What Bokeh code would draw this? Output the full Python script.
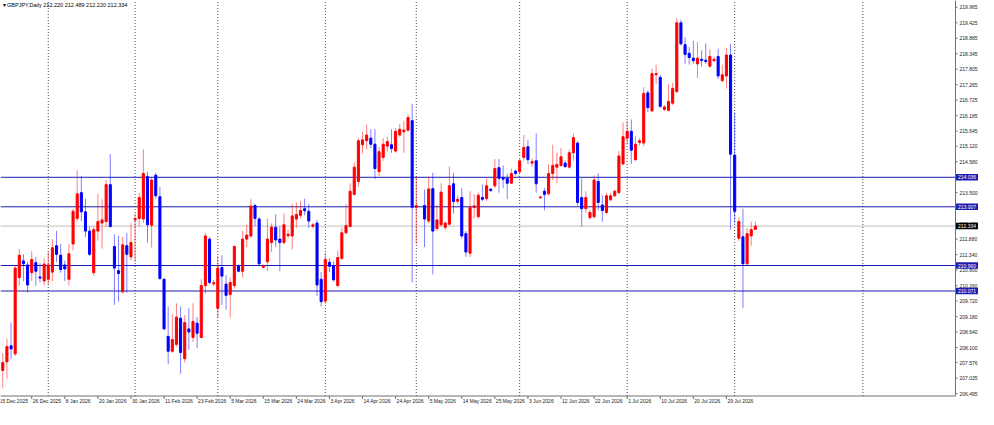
import numpy as np
from bokeh.plotting import figure
from bokeh.models import Range1d, ColumnDataSource
from bokeh.core.properties import value
from bokeh.embed import file_html
from bokeh.resources import INLINE

# ---------------- data ----------------
symbol = "GBPJPY,Daily"
bar_index = list(range(0, 101)) + list(range(102, 183))

opens = [
    207.30, 207.60, 208.16, 207.88, 210.54, 211.12, 210.98, 210.71, 211.06, 210.56,
    210.42, 210.48, 210.73, 211.65, 211.32, 210.98, 210.48, 211.71, 212.60, 213.50,
    212.83, 212.16, 210.71, 212.16, 212.44, 212.49, 213.78, 211.62, 210.78, 210.04,
    211.65, 211.26, 212.55, 212.60, 212.58, 214.06, 212.36, 214.11, 213.36, 210.48,
    208.49, 207.97, 208.21, 209.12, 207.71, 208.75, 208.45, 208.95, 208.45, 210.26,
    211.88, 210.32, 209.47, 210.89, 210.31, 209.95, 210.26, 210.93, 210.76, 211.88,
    211.99, 213.05, 212.58, 210.90, 211.09, 211.76, 212.29, 211.88, 211.76, 212.00,
    211.99, 212.58, 212.71, 212.94, 212.85, 212.33, 212.44, 210.48, 209.72, 211.07,
    210.95, 210.26, 211.21, 212.10, 212.32, 213.44, 213.89, 215.17, 215.31, 215.40,
    215.19, 214.23, 214.73, 215.12, 215.17, 214.95, 215.51, 215.62, 215.68, 216.01,
    212.99,
    213.05, 212.51, 213.64, 212.25, 212.38, 212.29, 212.40, 213.81, 213.20, 213.33,
    212.07, 211.39, 212.98, 212.66, 213.33, 213.29, 213.62, 213.74, 214.37, 214.03,
    214.00, 213.83, 214.25, 214.23, 214.73, 215.10, 214.53, 214.61, 213.32, 213.55,
    213.46, 214.17, 214.39, 214.45, 214.53, 214.39, 214.89, 215.23, 213.33, 212.94,
    212.63, 212.66, 213.89, 213.07, 212.81, 213.25, 213.39, 213.50, 214.50, 215.40,
    215.64, 214.65, 215.25, 215.23, 216.98, 216.35, 217.61, 217.52, 216.40, 216.37,
    216.62, 217.02, 219.42, 218.66, 218.36, 218.19, 217.99, 218.15, 218.12, 217.91,
    218.10, 218.25, 217.41, 217.57, 218.30, 214.81, 211.91, 211.96, 211.02, 211.99,
    212.220,
]
highs = [
    207.91, 208.41, 208.97, 210.98, 211.54, 211.35, 211.09, 211.46, 211.26, 211.04,
    211.21, 211.43, 211.88, 212.16, 211.71, 211.13, 211.71, 212.94, 214.28, 214.08,
    213.29, 212.32, 212.32, 213.46, 213.27, 213.94, 214.84, 212.05, 211.99, 211.96,
    212.10, 212.43, 212.77, 213.50, 215.01, 214.23, 214.06, 214.20, 213.70, 210.52,
    209.53, 209.26, 209.64, 209.53, 209.23, 209.47, 209.64, 209.16, 210.48, 212.10,
    211.95, 210.45, 211.29, 211.32, 210.62, 210.54, 211.67, 211.00, 212.16, 212.38,
    213.27, 213.11, 212.65, 211.00, 212.60, 212.43, 212.74, 212.32, 212.77, 212.20,
    213.11, 213.16, 213.22, 213.29, 213.11, 212.45, 212.55, 210.73, 211.40, 211.21,
    211.10, 211.49, 212.27, 213.11, 213.83, 214.56, 215.40, 215.62, 215.87, 215.71,
    215.71, 215.08, 215.40, 215.45, 215.71, 215.75, 215.90, 216.01, 216.23, 216.60,
    214.06,
    213.61, 214.06, 214.19, 213.07, 213.83, 212.50, 214.41, 214.19, 213.40, 213.66,
    212.16, 213.55, 213.44, 213.50, 213.78, 214.00, 213.65, 214.67, 214.67, 214.45,
    214.17, 214.34, 214.30, 214.67, 215.51, 215.34, 214.70, 215.57, 213.40, 213.66,
    214.50, 215.17, 214.89, 215.06, 214.62, 215.00, 215.57, 215.30, 214.00, 213.55,
    212.90, 214.11, 214.17, 213.41, 213.50, 213.50, 213.60, 214.95, 215.95, 216.01,
    216.05, 215.47, 215.40, 217.18, 217.07, 217.82, 217.96, 217.60, 216.55, 217.29,
    217.32, 219.59, 219.53, 218.92, 218.58, 218.80, 218.75, 218.46, 218.70, 218.50,
    218.25, 218.52, 217.96, 218.55, 218.69, 216.29, 212.63, 212.94, 212.27, 212.49,
    212.489,
]
lows = [
    206.68, 207.02, 207.69, 207.80, 210.26, 210.42, 210.01, 210.42, 210.26, 210.37,
    210.26, 210.31, 210.42, 211.09, 210.71, 210.42, 210.26, 211.49, 212.49, 212.51,
    211.96, 211.29, 210.59, 211.82, 211.55, 212.32, 212.27, 209.59, 209.70, 209.99,
    210.01, 211.15, 211.09, 212.32, 212.44, 211.76, 211.58, 213.30, 210.45, 208.72,
    207.52, 207.91, 208.13, 207.19, 207.58, 208.02, 208.30, 208.08, 208.41, 209.98,
    210.30, 210.25, 209.14, 209.59, 209.42, 209.14, 210.15, 210.72, 210.54, 211.60,
    211.93, 212.32, 210.98, 210.85, 210.76, 211.43, 211.60, 210.76, 211.70, 211.90,
    211.52, 212.27, 212.60, 212.71, 212.27, 212.25, 209.90, 209.53, 209.64, 210.73,
    210.40, 210.20, 211.15, 212.05, 212.28, 213.40, 213.70, 214.86, 215.01, 215.06,
    213.97, 214.08, 214.61, 214.93, 214.89, 214.89, 215.45, 214.89, 215.62, 210.37,
    211.71,
    211.60, 212.44, 210.65, 212.16, 212.32, 212.20, 212.36, 212.77, 213.10, 211.90,
    211.26, 211.26, 212.60, 212.60, 213.20, 213.20, 213.54, 213.66, 213.50, 213.66,
    213.27, 213.80, 214.10, 214.17, 214.61, 214.50, 214.40, 213.50, 213.28, 212.88,
    213.39, 213.94, 213.83, 214.40, 214.35, 214.34, 214.61, 213.05, 212.32, 212.80,
    212.55, 212.60, 212.88, 212.49, 212.75, 213.20, 213.35, 213.45, 214.45, 215.17,
    214.50, 214.60, 215.15, 215.12, 216.31, 216.30, 217.29, 216.45, 216.35, 216.33,
    216.55, 216.98, 218.63, 217.99, 217.97, 217.99, 217.50, 217.90, 217.99, 217.85,
    218.05, 217.46, 217.35, 217.13, 212.21, 212.44, 211.82, 209.47, 210.98, 211.65,
    212.220,
]
closes = [
    207.58, 208.13, 208.05, 210.87, 211.32, 211.02, 210.28, 211.17, 210.76, 210.52,
    211.01, 210.98, 211.58, 211.35, 210.82, 210.84, 211.37, 212.85, 213.46, 212.83,
    212.16, 211.35, 212.21, 212.49, 212.55, 213.78, 212.32, 210.87, 210.68, 211.68,
    211.35, 211.76, 212.60, 213.33, 214.17, 212.38, 213.94, 213.39, 210.51, 208.75,
    207.97, 208.38, 209.16, 207.93, 208.97, 208.64, 209.01, 208.60, 210.26, 211.99,
    210.37, 210.36, 210.87, 210.59, 209.92, 210.37, 211.62, 210.76, 211.88, 212.02,
    213.03, 212.60, 211.02, 210.95, 211.88, 212.30, 211.85, 211.76, 212.38, 212.05,
    212.69, 212.74, 212.88, 212.87, 212.51, 212.38, 210.28, 209.70, 211.17, 210.93,
    210.46, 211.24, 212.10, 212.35, 213.55, 214.39, 215.31, 215.34, 215.51, 215.19,
    214.34, 214.93, 215.19, 215.28, 215.04, 215.64, 215.71, 215.68, 216.12, 212.99,
    213.05,
    212.58, 213.63, 212.16, 212.55, 213.52, 212.44, 213.74, 213.19, 213.27, 211.99,
    211.43, 212.99, 213.04, 213.41, 213.27, 213.74, 213.57, 214.34, 214.00, 213.97,
    213.83, 214.17, 214.17, 214.61, 215.08, 214.65, 214.58, 213.81, 213.35, 213.44,
    214.17, 214.45, 214.48, 214.75, 214.41, 214.89, 215.42, 213.16, 212.94, 213.33,
    212.81, 213.94, 213.16, 212.88, 213.39, 213.39, 213.55, 214.78, 215.45, 215.64,
    214.98, 215.19, 215.31, 216.96, 216.46, 217.65, 217.65, 216.51, 216.49, 216.68,
    217.13, 219.42, 218.69, 218.32, 218.21, 218.10, 218.19, 218.11, 218.07, 218.25,
    218.15, 217.57, 217.61, 218.30, 214.84, 212.85, 212.49, 211.02, 212.07, 212.21,
    212.334,
]

# right price scale
price_ticks = [219.965, 219.425, 218.885, 218.345, 217.805, 217.265, 216.725, 216.185,
               215.645, 215.120, 214.580, 214.040, 213.500, 212.960, 212.420, 211.880,
               211.340, 210.800, 210.260, 209.720, 209.180, 208.640, 208.100, 207.576,
               207.035, 206.495]
# horizontal levels and bid line
level_values = [214.036, 213.007, 210.960, 210.071]
bid_value = 212.334

# time scale
date_pos = [-1, 7, 15, 23, 31, 39, 47, 55, 63, 71, 79, 87, 95, 103, 111, 119, 127,
            135, 143, 151, 159, 167, 175]
date_labels = ["15 Dec 2025", "26 Dec 2025", "8 Jan 2026", "20 Jan 2026", "30 Jan 2026",
               "11 Feb 2026", "23 Feb 2026", "5 Mar 2026", "15 Mar 2026", "24 Mar 2026",
               "3 Apr 2026", "14 Apr 2026", "24 Apr 2026", "5 May 2026", "14 May 2026",
               "25 May 2026", "3 Jun 2026", "12 Jun 2026", "22 Jun 2026", "1 Jul 2026",
               "10 Jul 2026", "20 Jul 2026", "29 Jul 2026"]
month_starts = [11, 32, 52, 78, 100, 125, 151, 177, 208]

# ---------------- layout (terminal-like: scales drawn inside the canvas) ----------------
W, H = 978, 409
CHART_W, CHART_H = 955, 395.5          # pixel size of the price area
X0, XC = -0.55, 230.4                  # bar range of the price area
YC, Y1 = 206.41, 220.20                # price range of the price area
KX = CHART_W / (XC - X0)               # px per bar
KY = CHART_H / (Y1 - YC)               # px per price unit
X_END = X0 + W / KX
Y_START = Y1 - H / KY

FONT = value("Liberation Sans")
UP = "#ff0000"
DN = "#0000ff"
LEVEL = "#1c1cb0"
AXIS = "#707070"
TXT = "#1a1a1a"

p = figure(width=W, height=H, output_backend="svg", toolbar_location=None,
           x_range=Range1d(X0, X_END), y_range=Range1d(Y_START, Y1),
           x_axis_location=None, y_axis_location=None,
           min_border=0, min_border_left=0, min_border_right=0,
           min_border_top=0, min_border_bottom=0)
p.outline_line_color = None
p.background_fill_color = "white"
p.border_fill_color = "white"
p.xgrid.visible = False
p.ygrid.visible = False

n_m = len(month_starts)
# month grid lines (dotted)
p.segment(x0=month_starts, y0=[YC] * n_m, x1=month_starts, y1=[Y1] * n_m,
          line_color="#4a4a4a", line_width=1, line_dash="1 2")

# bid and level lines
p.segment(x0=[X0], y0=[bid_value], x1=[XC], y1=[bid_value], line_color="#c0c0c0", line_width=1)
n_l = len(level_values)
p.segment(x0=[X0] * n_l, y0=level_values, x1=[XC] * n_l, y1=level_values,
          line_color=LEVEL, line_width=1)

# candles
o = np.array(opens); h = np.array(highs); l = np.array(lows); c = np.array(closes)
x = np.array(bar_index)
up = c >= o
src = ColumnDataSource(dict(
    x=x, high=h, low=l, top=np.maximum(o, c), bottom=np.minimum(o, c),
    color=np.where(up, UP, DN),
))
p.segment(x0="x", y0="low", x1="x", y1="high", source=src, line_color="color",
          line_alpha=0.5, line_width=1)
p.vbar(x="x", width=0.5, top="top", bottom="bottom", source=src,
       fill_color="color", line_color="color", line_width=1)

# axis lines
p.segment(x0=[XC], y0=[YC], x1=[XC], y1=[Y1], line_color=AXIS, line_width=1)
p.segment(x0=[X0], y0=[YC], x1=[XC], y1=[YC], line_color=AXIS, line_width=1)

# price scale: ticks + labels
n_t = len(price_ticks)
p.segment(x0=[XC] * n_t, y0=price_ticks, x1=[XC + 2 / KX] * n_t, y1=price_ticks,
          line_color=AXIS, line_width=1)
p.text(x=[XC + 4 / KX] * n_t, y=price_ticks, text=[f"{v:.3f}" for v in price_ticks],
       text_font=FONT, text_font_size="5px", text_color=TXT,
       text_align="left", text_baseline="middle")

# price boxes for the levels and the bid
box_x = XC + (0.5 + 11.5) / KX
p.rect(x=[box_x] * n_l, y=level_values, width=23, height=6.5,
       width_units="screen", height_units="screen", fill_color=LEVEL, line_color=None)
p.text(x=[XC + 2.5 / KX] * n_l, y=level_values, text=[f"{v:.3f}" for v in level_values],
       text_font=FONT, text_font_size="5px", text_color="white",
       text_align="left", text_baseline="middle")
p.rect(x=[box_x], y=[bid_value], width=23, height=6.5,
       width_units="screen", height_units="screen", fill_color="black", line_color=None)
p.text(x=[XC + 2.5 / KX], y=[bid_value], text=[f"{bid_value:.3f}"],
       text_font=FONT, text_font_size="5px", text_color="white",
       text_align="left", text_baseline="middle")

# time scale: ticks + left-aligned labels
n_d = len(date_pos)
p.segment(x0=date_pos, y0=[YC] * n_d, x1=date_pos, y1=[YC - 3 / KY] * n_d,
          line_color=AXIS, line_width=1)
p.text(x=[d + 1 / KX for d in date_pos], y=[YC - 2 / KY] * n_d, text=date_labels,
       text_font=FONT, text_font_size="5px", text_color=TXT,
       text_align="left", text_baseline="top")

# header
header = "\u25BE " + symbol + "  " + " ".join(f"{v:.3f}" for v in
                                              (opens[-1], highs[-1], lows[-1], closes[-1]))
p.text(x=[X0 + 2 / KX], y=[Y1 - 1 / KY], text=[header], text_font=FONT,
       text_font_size="5.5px", text_color="black", text_align="left", text_baseline="top")

open("out.html", "w").write(file_html(p, INLINE))
